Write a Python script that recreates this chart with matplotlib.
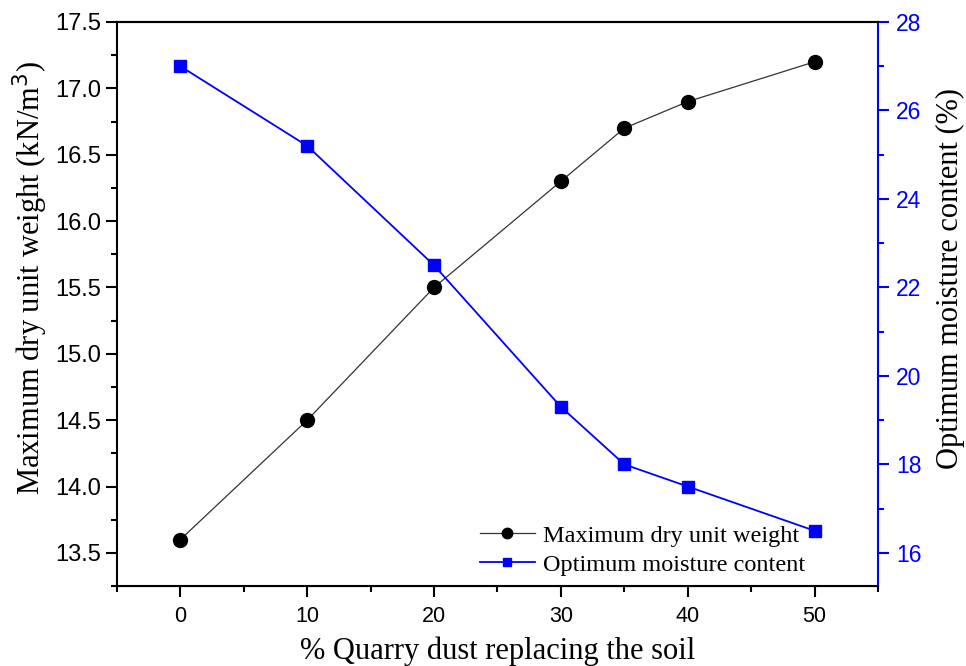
import matplotlib
matplotlib.use('Agg')
import matplotlib.pyplot as plt
from matplotlib.ticker import MultipleLocator, FormatStrFormatter

# Compaction results vs. quarry dust replacement
dust_pct = [0, 10, 20, 30, 35, 40, 50]
max_dry_weight = [13.6, 14.5, 15.5, 16.3, 16.7, 16.9, 17.2]   # kN/m^3
opt_moisture = [27.0, 25.2, 22.5, 19.3, 18.0, 17.5, 16.5]     # %

BLUE = "#0000FF"
SERIF = "Liberation Serif"
SANS = "Liberation Sans"

fig = plt.figure(figsize=(9.66, 6.66), dpi=100)
ax = fig.add_axes([0.121, 0.120, 0.788, 0.847])
ax2 = ax.twinx()

l1, = ax.plot(dust_pct, max_dry_weight, color="#333333", linewidth=0.9,
              marker="o", markersize=10, markerfacecolor="black",
              markeredgecolor="black", label="Maximum dry unit weight")
l2, = ax2.plot(dust_pct, opt_moisture, color=BLUE, linewidth=1.3,
               marker="s", markersize=8, markerfacecolor=BLUE,
               markeredgecolor=BLUE, label="Optimum moisture content")

ax.set_xlim(-5, 55)
ax.set_ylim(13.25, 17.5)
ax2.set_ylim(15.25, 28)

ax.xaxis.set_major_locator(MultipleLocator(10))
ax.xaxis.set_minor_locator(MultipleLocator(5))
ax.yaxis.set_major_locator(MultipleLocator(0.5))
ax.yaxis.set_minor_locator(MultipleLocator(0.25))
ax2.yaxis.set_major_locator(MultipleLocator(2))
ax2.yaxis.set_minor_locator(MultipleLocator(1))
ax.yaxis.set_major_formatter(FormatStrFormatter('%.1f'))

ax.tick_params(axis='both', which='major', direction='out', length=8, width=1.5)
ax.tick_params(axis='both', which='minor', direction='out', length=4.5, width=1.5)
ax.tick_params(axis='y', which='both', right=False, labelsize=17)
ax.tick_params(axis='x', which='both', top=False, labelsize=15.5, pad=6)
ax2.tick_params(axis='y', which='major', direction='out', length=8, width=1.5,
                labelsize=16.5, colors=BLUE, pad=5)
ax2.tick_params(axis='y', which='minor', direction='out', length=4.5, width=1.5,
                colors=BLUE)

for lbl in ax.get_xticklabels() + ax.get_yticklabels() + ax2.get_yticklabels():
    lbl.set_fontfamily(SANS)

for side in ["left", "bottom", "top"]:
    ax.spines[side].set_linewidth(1.5)
ax2.spines["right"].set_color(BLUE)
ax2.spines["right"].set_linewidth(1.5)
ax2.spines["top"].set_linewidth(1.5)
ax2.spines["left"].set_visible(False)
ax.spines["right"].set_visible(False)

ax.set_xlabel("% Quarry dust replacing the soil", fontsize=22, family=SERIF,
              labelpad=7)
ax.set_ylabel("Maximum dry unit weight (kN/m$^3$)", fontsize=22, family=SERIF)
ax2.set_ylabel("Optimum moisture content (%)", fontsize=22, family=SERIF)
# labels sit a little above the axes centre
ax.yaxis.set_label_coords(-0.088, 0.546)
ax2.yaxis.set_label_coords(1.076, 0.546)

ax.legend(handles=[l1, l2], loc="lower left", bbox_to_anchor=(0.477, 0.018),
          frameon=False, borderpad=0, borderaxespad=0,
          prop={"family": SERIF, "size": 17.5}, markerscale=0.75,
          handlelength=2.25, labelspacing=0.3, handletextpad=0.35)

fig.savefig("out.png", dpi=100)
